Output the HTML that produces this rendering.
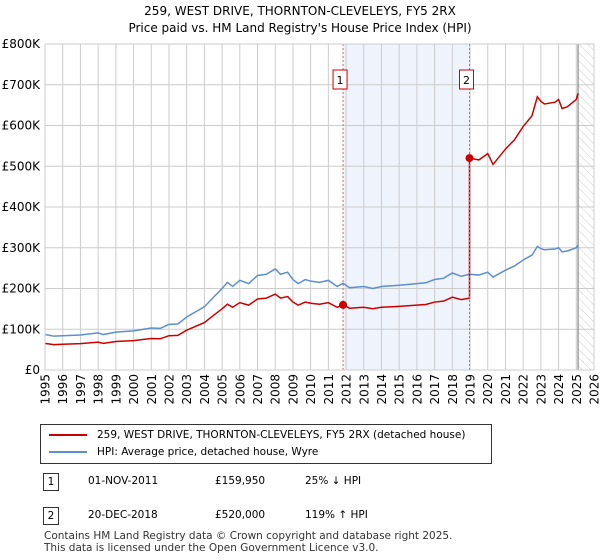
<!DOCTYPE html>
<html><head><meta charset="utf-8"><style>
body{margin:0;background:#fff;font-family:"DejaVu Sans","Liberation Sans",sans-serif;}
#wrap{position:relative;width:600px;height:560px;overflow:hidden;}
.t{position:absolute;font-size:12px;color:#000;}
</style></head><body><div id="wrap">
<div class="t" style="left:0;width:600px;text-align:center;top:3px;font-size:12px;line-height:17px">259, WEST DRIVE, THORNTON-CLEVELEYS, FY5 2RX<br>Price paid vs. HM Land Registry's House Price Index (HPI)</div>
<svg id="ch" width="600" height="420" style="position:absolute;left:0;top:0;font-family:'DejaVu Sans',sans-serif"></svg>
<div style="position:absolute;left:40px;top:424px;width:450px;height:38px;border:1px solid #333;font-size:10.5px">
<div style="position:absolute;left:8px;top:4px;white-space:nowrap"><span style="display:inline-block;width:38px;border-top:2px solid #cc0000;vertical-align:middle;margin-right:10px"></span>259, WEST DRIVE, THORNTON-CLEVELEYS, FY5 2RX (detached house)</div>
<div style="position:absolute;left:8px;top:21px;white-space:nowrap"><span style="display:inline-block;width:38px;border-top:2px solid #5b8fd1;vertical-align:middle;margin-right:10px"></span>HPI: Average price, detached house, Wyre</div>
</div>
<div style="position:absolute;top:473px;left:0;font-size:10.5px">
<span style="position:absolute;left:43px;top:0;width:14px;height:16px;border:1px solid #333;text-align:center;line-height:16px">1</span>
<span style="position:absolute;left:88px;top:2px;white-space:nowrap">01-NOV-2011</span>
<span style="position:absolute;left:215px;top:2px;white-space:nowrap">£159,950</span>
<span style="position:absolute;left:305px;top:2px;white-space:nowrap">25% ↓ HPI</span></div>
<div style="position:absolute;top:507px;left:0;font-size:10.5px">
<span style="position:absolute;left:43px;top:0;width:14px;height:16px;border:1px solid #333;text-align:center;line-height:16px">2</span>
<span style="position:absolute;left:88px;top:2px;white-space:nowrap">20-DEC-2018</span>
<span style="position:absolute;left:215px;top:2px;white-space:nowrap">£520,000</span>
<span style="position:absolute;left:305px;top:2px;white-space:nowrap">119% ↑ HPI</span></div>
<div class="t" style="left:44px;top:530px;font-size:10.5px;line-height:12px;color:#333">Contains HM Land Registry data © Crown copyright and database right 2025.<br>This data is licensed under the Open Government Licence v3.0.</div>
</div>
<script>
const hpiYears=[1995,1995.5,1996,1997,1998,1998.3,1999,2000,2001,2001.5,2002,2002.5,2003,2004,2004.5,2005,2005.3,2005.6,2006,2006.5,2007,2007.5,2008,2008.3,2008.7,2009,2009.3,2009.7,2010,2010.5,2011,2011.5,2011.83,2012.2,2013,2013.5,2014,2015,2016,2016.5,2017,2017.5,2018,2018.5,2018.97,2019.5,2020,2020.3,2021,2021.5,2022,2022.5,2022.8,2023,2023.2,2023.8,2024,2024.2,2024.5,2025,2025.1];
const hpiValues=[87,83,84,86,91,87,93,96,103,102,112,113,130,155,178,200,215,205,220,212,232,235,248,235,240,222,212,222,218,215,220,205,213,202,205,200,205,208,212,214,222,225,238,230,235,233,240,228,245,255,270,282,303,298,295,297,300,290,292,300,307];
const saleYears=[2011.83,2018.97];
const salePrices=[159.95,520];
const yTicks=[0,100,200,300,400,500,600,700,800];
const yLabels=["£0","£100K","£200K","£300K","£400K","£500K","£600K","£700K","£800K"];
const xTicks=[1995,1996,1997,1998,1999,2000,2001,2002,2003,2004,2005,2006,2007,2008,2009,2010,2011,2012,2013,2014,2015,2016,2017,2018,2019,2020,2021,2022,2023,2024,2025,2026];
const X0=45,X1=594,Y0=370,Y1=44;
const xs=y=>X0+(y-1995)*(X1-X0)/31;
const ys=v=>Y0-v*(Y0-Y1)/800;
const svg=document.getElementById('ch');const NS='http://www.w3.org/2000/svg';
function mk(t,a,p){const e=document.createElementNS(NS,t);for(const k in a)e.setAttribute(k,a[k]);(p||svg).appendChild(e);return e;}
const defs=mk('defs',{});
const pat=mk('pattern',{id:'hatch',width:6,height:6,patternUnits:'userSpaceOnUse',patternTransform:'rotate(-45)'},defs);
mk('line',{x1:0,y1:0,x2:0,y2:6,stroke:'#ccc','stroke-width':1},pat);
const shade=mk('rect',{x:xs(saleYears[0]),y:Y1,width:xs(saleYears[1])-xs(saleYears[0]),height:Y0-Y1,fill:'#eef3fc'});


const hat=mk('rect',{x:xs(2025.1),y:Y1,width:X1-xs(2025.1),height:Y0-Y1,fill:'url(#hatch)'});


yTicks.forEach((v,i)=>{mk('line',{x1:X0,x2:X1,y1:ys(v),y2:ys(v),stroke:'#ccc'});
const t=mk('text',{x:X0-5,y:ys(v)+4,'text-anchor':'end','font-size':12,fill:'#000'});t.textContent=yLabels[i];

});
xTicks.forEach(yr=>{mk('line',{x1:xs(yr),x2:xs(yr),y1:Y1,y2:Y0,stroke:'#ccc'});
const t=mk('text',{transform:`translate(${xs(yr)+4.5},${Y0+4}) rotate(-90)`,'text-anchor':'end','font-size':12,fill:'#000'});t.textContent=yr;

});
mk('line',{x1:xs(2025.1),x2:xs(2025.1),y1:Y1,y2:Y0,stroke:'#888','stroke-width':1.2});
function hpiAt(y){for(let i=0;i<hpiYears.length-1;i++){if(y>=hpiYears[i]&&y<=hpiYears[i+1]){const f=(y-hpiYears[i])/(hpiYears[i+1]-hpiYears[i]);return hpiValues[i]+f*(hpiValues[i+1]-hpiValues[i]);}}return hpiValues[hpiValues.length-1];}
const r1=salePrices[0]/hpiAt(saleYears[0]),r2=salePrices[1]/hpiAt(saleYears[1]);
let redPts=[];hpiYears.forEach((y,i)=>{if(y<saleYears[1])redPts.push([y,hpiValues[i]*r1]);});
redPts.push([saleYears[1],hpiAt(saleYears[1])*r1]);
hpiYears.forEach((y,i)=>{if(y>=saleYears[1])redPts.push([y,hpiValues[i]*r2]);});
const hp=mk('polyline',{points:hpiYears.map((y,i)=>xs(y)+','+ys(hpiValues[i])).join(' '),fill:'none',stroke:'#5b8fd1','stroke-width':1.5});


const rp=mk('polyline',{points:redPts.map(p=>xs(p[0])+','+ys(p[1])).join(' '),fill:'none',stroke:'#cc0000','stroke-width':1.5});


saleYears.forEach((y,i)=>{
mk('line',{x1:xs(y),x2:xs(y),y1:Y1,y2:Y0,stroke:'#e06060','stroke-dasharray':'2,2'});
const c=mk('circle',{cx:xs(y),cy:ys(salePrices[i]),r:4,fill:'#cc0000'});


const b=mk('rect',{x:xs(y)-10,y:70,width:14,height:19,fill:'#fff',stroke:'#cc0000'});


const t=mk('text',{x:xs(y)-3,y:84,'text-anchor':'middle','font-size':11,fill:'#000'});t.textContent=String(i+1);

});
mk('rect',{x:X0,y:Y1,width:X1-X0,height:Y0-Y1,fill:'none',stroke:'#ccc'});
</script></body></html>
